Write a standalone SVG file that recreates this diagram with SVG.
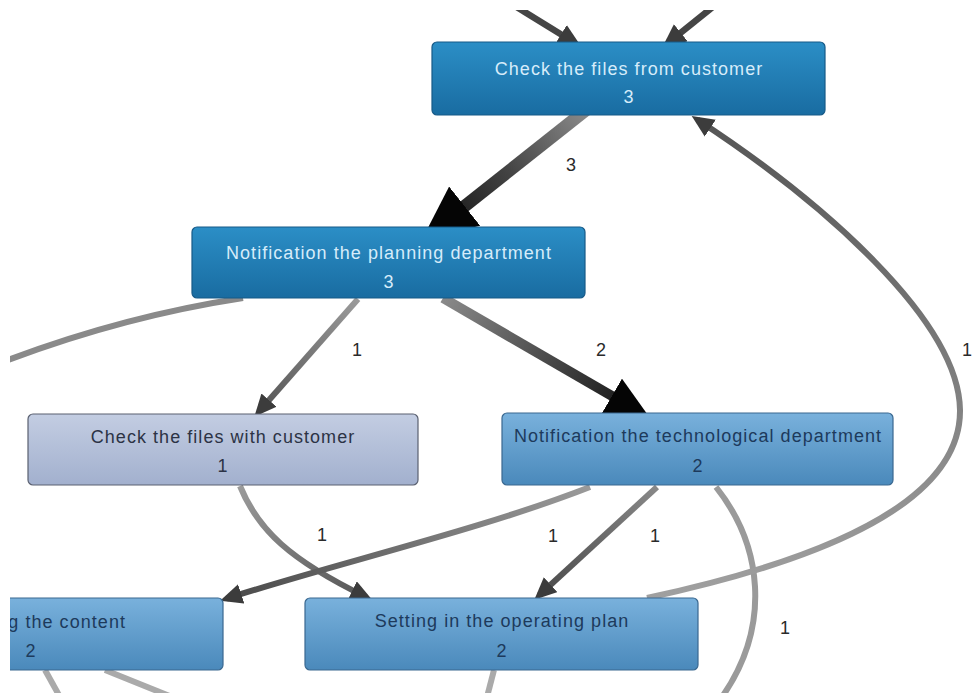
<svg xmlns="http://www.w3.org/2000/svg" width="972" height="693" viewBox="0 0 972 693">
<style>
.edge{fill:none;stroke-linecap:butt}
.nt{font-family:"Liberation Sans",Arial,sans-serif;font-size:18px;letter-spacing:1.05px;text-anchor:middle}
.el{font-family:"Liberation Sans",Arial,sans-serif;font-size:18px;fill:#2a2a2a;text-anchor:middle}
.dark rect{fill:url(#gDark);stroke:#175a88;stroke-width:1.2}
.dark text{fill:#d6ecfa}
.lav rect{fill:url(#gLav);stroke:#5a6070;stroke-width:1.2}
.lav text{fill:#2c3345}
.mid rect{fill:url(#gMid);stroke:#3a6890;stroke-width:1.2}
.mid text{fill:#1d3a5c}
</style>
<defs>
<clipPath id="clip"><rect x="10" y="10" width="962" height="683"/></clipPath>
<linearGradient id="gDark" x1="0" y1="0" x2="0" y2="1"><stop offset="0" stop-color="#2b8ec6"/><stop offset="1" stop-color="#196ca1"/></linearGradient>
<linearGradient id="gLav" x1="0" y1="0" x2="0" y2="1"><stop offset="0" stop-color="#c3cde2"/><stop offset="1" stop-color="#a2b0ce"/></linearGradient>
<linearGradient id="gMid" x1="0" y1="0" x2="0" y2="1"><stop offset="0" stop-color="#79b1dc"/><stop offset="1" stop-color="#4a89bb"/></linearGradient>
<linearGradient id="g12" gradientUnits="userSpaceOnUse" x1="585" y1="110" x2="433" y2="231"><stop offset="0" stop-color="#8a8a8a"/><stop offset="0.5" stop-color="#444"/><stop offset="1" stop-color="#111"/></linearGradient>
<linearGradient id="g24" gradientUnits="userSpaceOnUse" x1="443" y1="298" x2="640" y2="412"><stop offset="0" stop-color="#8a8a8a"/><stop offset="1" stop-color="#111"/></linearGradient>
<linearGradient id="g23" gradientUnits="userSpaceOnUse" x1="358" y1="299" x2="259" y2="411"><stop offset="0" stop-color="#9a9a9a"/><stop offset="1" stop-color="#555"/></linearGradient>
<linearGradient id="g36" gradientUnits="userSpaceOnUse" x1="240" y1="486" x2="366" y2="597"><stop offset="0" stop-color="#9a9a9a"/><stop offset="1" stop-color="#555"/></linearGradient>
<linearGradient id="g45" gradientUnits="userSpaceOnUse" x1="590" y1="487" x2="227" y2="598"><stop offset="0" stop-color="#9a9a9a"/><stop offset="1" stop-color="#4a4a4a"/></linearGradient>
<linearGradient id="g46" gradientUnits="userSpaceOnUse" x1="657" y1="487" x2="540" y2="595"><stop offset="0" stop-color="#888"/><stop offset="1" stop-color="#4a4a4a"/></linearGradient>
<linearGradient id="g61" gradientUnits="userSpaceOnUse" x1="700" y1="598" x2="698" y2="120"><stop offset="0" stop-color="#a0a0a0"/><stop offset="1" stop-color="#555"/></linearGradient>
<marker id="ah" viewBox="0 0 22 20" refX="15" refY="10" markerWidth="3.7" markerHeight="3.4" orient="auto" markerUnits="strokeWidth"><path d="M0,0 L22,10 L0,20 z" fill="#3c3c3c"/></marker>
<marker id="ahb" viewBox="0 0 22 20" refX="16" refY="10" markerWidth="4.4" markerHeight="4" orient="auto" markerUnits="strokeWidth"><path d="M0,0 L22,10 L0,20 z" fill="#050505"/></marker>
</defs>
<rect width="972" height="693" fill="#fff"/>
<g clip-path="url(#clip)">
<g id="connectors">
<path class="edge" d="M 515 6 L 575 43" stroke="#454545" stroke-width="6.5" marker-end="url(#ah)"/>
<path class="edge" d="M 714 6 L 668 43" stroke="#454545" stroke-width="6.5" marker-end="url(#ah)"/>
<path class="edge" d="M 586 110 L 433.3 231" stroke="url(#g12)" stroke-width="12.5" marker-end="url(#ahb)"/>
<path class="edge" d="M 443 298 L 639.6 412" stroke="url(#g24)" stroke-width="10" marker-end="url(#ahb)"/>
<path class="edge" d="M 358 299 L 259 411.5" stroke="url(#g23)" stroke-width="6" marker-end="url(#ah)"/>
<path class="edge" d="M 243 298 Q 125 316 8 360" stroke="#8a8a8a" stroke-width="6"/>
<path class="edge" d="M 240 486 C 258 530, 290 560, 366 597" stroke="url(#g36)" stroke-width="6" marker-end="url(#ah)"/>
<path class="edge" d="M 590 487 C 480 530, 330 565, 226.8 598.6" stroke="url(#g45)" stroke-width="6" marker-end="url(#ah)"/>
<path class="edge" d="M 657 487 L 539.5 595" stroke="url(#g46)" stroke-width="6" marker-end="url(#ah)"/>
<path class="edge" d="M 716 487 C 762 545, 772 625, 722 697" stroke="#9a9a9a" stroke-width="6"/>
<path class="edge" d="M 647 598 C 800 565, 961 510, 960 410 C 959 320, 820 200, 697.6 119.8" stroke="url(#g61)" stroke-width="6" marker-end="url(#ah)"/>
<path class="edge" d="M 45 670 L 60 697" stroke="#aaa" stroke-width="6"/>
<path class="edge" d="M 105 670 L 172 697" stroke="#aaa" stroke-width="6"/>
<path class="edge" d="M 494 670 L 487 697" stroke="#aaa" stroke-width="6"/>
<text class="el" x="571" y="171">3</text>
<text class="el" x="357" y="356">1</text>
<text class="el" x="601" y="356">2</text>
<text class="el" x="967" y="356">1</text>
<text class="el" x="322" y="541">1</text>
<text class="el" x="553" y="542">1</text>
<text class="el" x="655" y="542">1</text>
<text class="el" x="785" y="634">1</text>
</g>
<g id="node-check-files-from-customer" class="dark">
<rect x="432" y="42" width="393" height="73" rx="5"/>
<text class="nt" x="629" y="75">Check the files from customer</text>
<text class="nt" x="629" y="103">3</text>
</g>
<g id="node-notification-planning" class="dark">
<rect x="192" y="227" width="393" height="71" rx="5"/>
<text class="nt" x="389" y="259">Notification the planning department</text>
<text class="nt" x="389" y="288">3</text>
</g>
<g id="node-check-files-with-customer" class="lav">
<rect x="28" y="414" width="390" height="71" rx="5"/>
<text class="nt" x="223" y="443">Check the files with customer</text>
<text class="nt" x="223" y="472">1</text>
</g>
<g id="node-notification-technological" class="mid">
<rect x="502" y="413" width="391" height="72" rx="5"/>
<text class="nt" x="698" y="442">Notification the technological department</text>
<text class="nt" x="698" y="472">2</text>
</g>
<g id="node-content" class="mid">
<rect x="-166" y="598" width="389" height="72" rx="5"/>
<text class="nt" x="126" y="628" style="text-anchor:end">g the content</text>
<text class="nt" x="31" y="657">2</text>
</g>
<g id="node-operating-plan" class="mid">
<rect x="305" y="598" width="393" height="72" rx="5"/>
<text class="nt" x="502" y="627">Setting in the operating plan</text>
<text class="nt" x="502" y="657">2</text>
</g>
</g>
</svg>
